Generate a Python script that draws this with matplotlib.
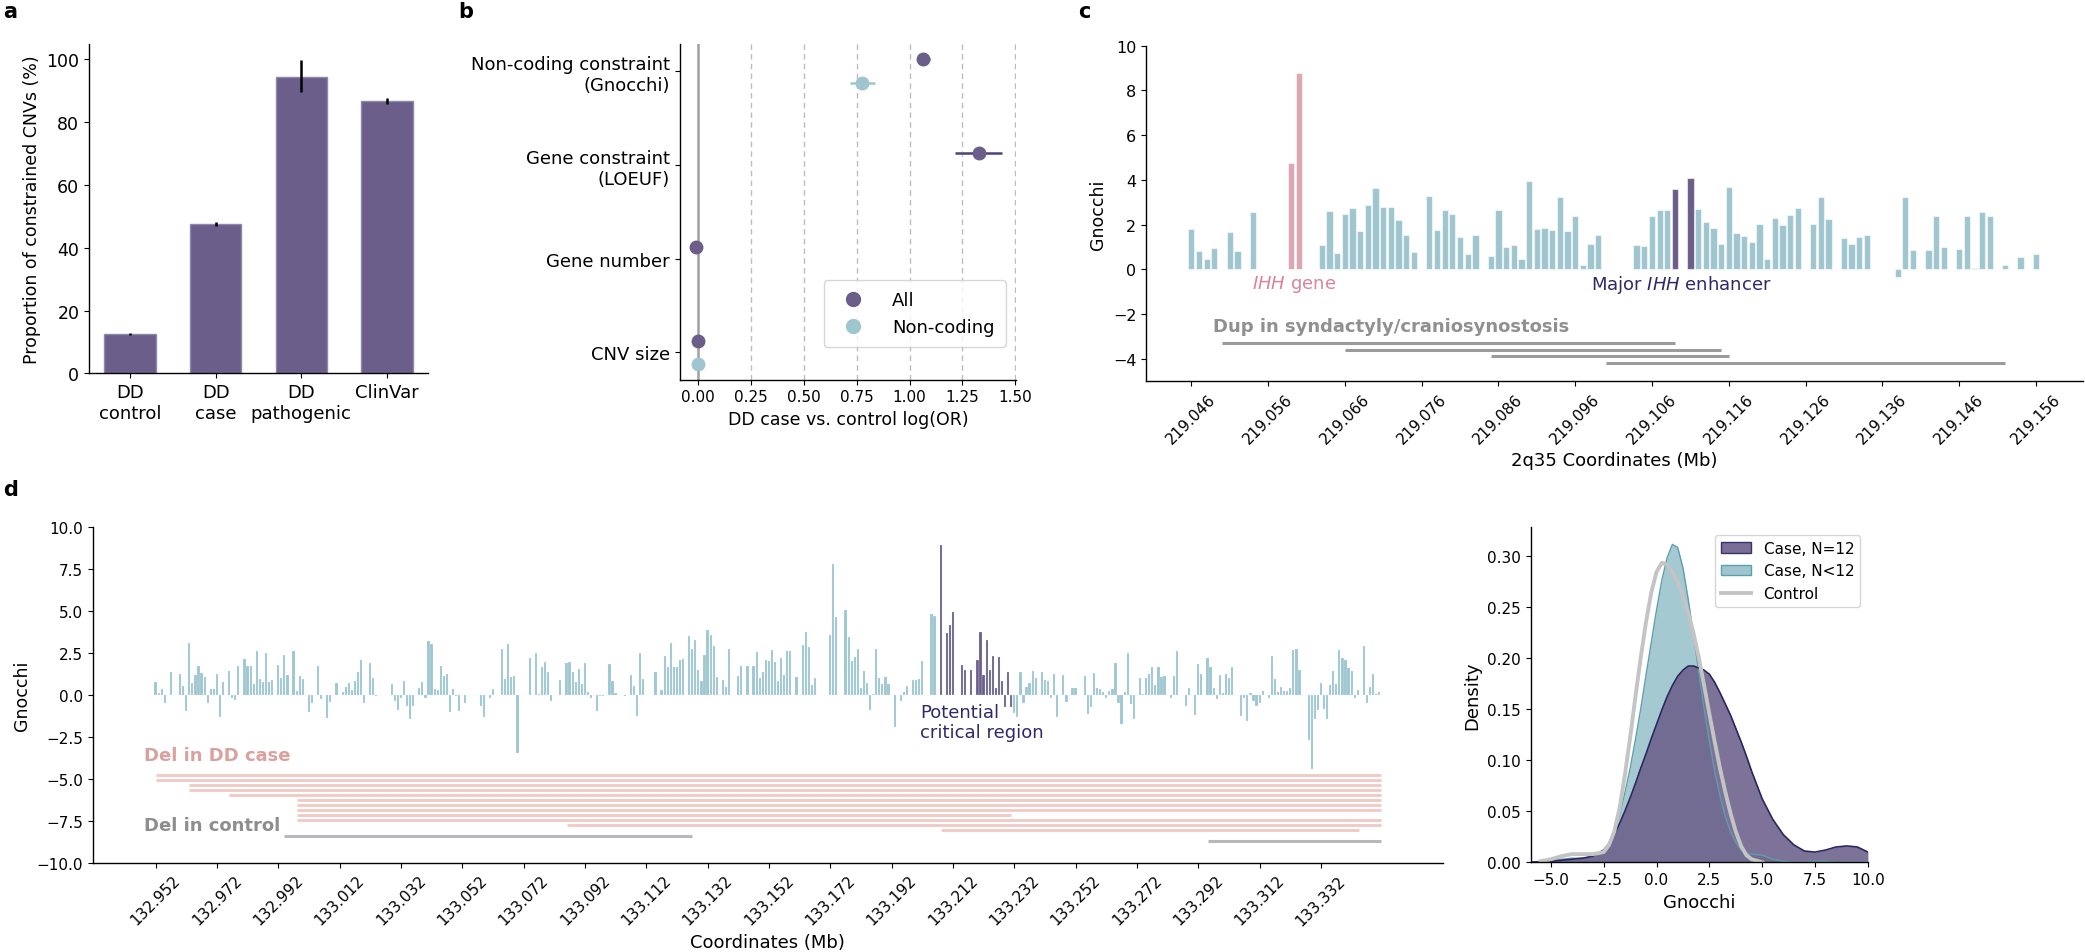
import numpy as np
import matplotlib
matplotlib.use("Agg")
import matplotlib.pyplot as plt
from matplotlib.patches import Patch
from matplotlib.lines import Line2D

plt.rcParams['font.family'] = ['DejaVu Sans']
plt.rcParams['font.size'] = 11
plt.rcParams['axes.linewidth'] = 1.0
plt.rcParams['mathtext.fontset'] = 'dejavusans'

PURPLE = '#6b5e8a'
TEAL = '#9fc6cf'
PINK = '#dca6b3'
NAVY = '#2e2a68'
GRAY_LINE = '#9b9b9b'

# ---------------- panel a data ----------------
a_categories = ['DD\ncontrol', 'DD\ncase', 'DD\npathogenic', 'ClinVar']
a_values = [12.5, 47.5, 94.5, 86.8]
a_err_low = [12.2, 46.9, 89.7, 85.8]
a_err_high = [12.8, 48.2, 99.8, 87.8]

# ---------------- panel b data ----------------
b_categories = ['Non-coding constraint\n(Gnocchi)', 'Gene constraint\n(LOEUF)',
                'Gene number', 'CNV size']
b_all = [1.065, 1.326, -0.01, 0.0]
b_all_err = [0.03, 0.11, 0.0, 0.0]
b_nc = [0.777, np.nan, np.nan, 0.0]
b_nc_err = [0.06, np.nan, np.nan, 0.0]
b_xticks = [0.0, 0.25, 0.5, 0.75, 1.0, 1.25, 1.5]

# ---------------- panel c data ----------------
c_start = 219.046
c_bin = 0.001
c_gnocchi = [1.78, 0.81, 0.46, 0.94, None, 1.66, 0.81, None, 2.54, None,
             None, None, None, 4.75, 8.78, None, None, 1.07, 2.6, 0.73,
             2.49, 2.76, 1.73, 2.88, 3.64, 2.78, 2.79, 2.19, 1.55, 0.78,
             None, 3.28, 1.76, 2.66, 2.48, 1.45, 0.67, 1.51, None, 0.57,
             2.67, 1.01, 1.09, 0.46, 3.96, 1.79, 1.84, 1.76, 3.25, 1.69,
             2.36, 0.21, 1.12, 1.55, None, None, None, None, 1.07, 1.03,
             2.39, 2.64, 2.67, 3.58, None, 4.1, 2.69, 2.1, 1.85, 1.12,
             3.69, 1.61, 1.49, 1.24, 2.04, 0.46, 2.27, 1.99, 2.43, 2.75,
             None, 2.04, 3.25, 2.24, None, 1.39, 1.15, 1.45, 1.54, None,
             None, None, -0.33, 3.24, 0.88, None, 0.84, 2.36, 0.99, None,
             0.9, 2.4, 0.07, 2.58, 2.37, None, 0.21, None, 0.54, None,
             0.66]
c_ihh_gene_bins = [219.059, 219.060]
c_enhancer_bins = [219.109, 219.111]
c_dup_starts = [219.050, 219.066, 219.085, 219.100]
c_dup_ends = [219.109, 219.115, 219.116, 219.152]
c_dup_levels = [-3.3, -3.6, -3.9, -4.2]
c_xticks = [219.046, 219.056, 219.066, 219.076, 219.086, 219.096,
            219.106, 219.116, 219.126, 219.136, 219.146, 219.156]
c_yticks = [-4, -2, 0, 2, 4, 6, 8, 10]

# ---------------- panel d data ----------------
d_start = 132.952
d_bin = 0.001
d_gnocchi = [
    0.74, 0.08, 0.34, -0.5, 0, 1.33, 0, 0, 1.22, 0.5,
    -0.98, 3.07, 0.7, 1.2, 1.69, 1.31, 1.06, -0.52, 0.34, 0.34,
    1.24, -1.3, 0.78, 0, 1.39, -0.22, -0.34, 1.73, 0, 2.11,
    1.69, 1.69, 0.62, 2.61, 0.94, 0.78, 2.49, 0.78, 0.9, 0,
    1.77, 1.0, 2.37, 1.16, 0, 2.61, 0.2, 1.1, 0.92, 0,
    -1.02, -0.48, 0, 1.69, -0.26, 0, -1.37, -0.42, 0, 0.72,
    0, 0.14, 0.46, 0.72, 0.26, 0.8, 1.33, 2.07, -0.5, 0,
    1.91, 1.0, -0.1, 0, 0, 0, 0, 0.62, -0.38, -0.9,
    -0.2, 0.82, -0.7, -1.45, -0.7, 0, 0.4, 0.78, -0.18, 3.17,
    2.99, 0.34, 0.3, 1.73, 1.1, 1.22, -1.05, 0.34, -0.06, -0.96,
    0, -0.52, 0, 0, 0, 0, -0.66, -1.3, 0, -0.2,
    0.34, 0, 0, 2.75, 0.96, 3.01, 1.06, 1.12, -3.49, 0,
    0, 0, 2.17, 0, 2.47, 0.02, 1.63, 1.93, 1.33, -0.4,
    0, 0, 0.88, 0, 1.89, 1.97, 1.33, 0.76, 1.53, 0.66,
    1.89, 0.18, -0.22, 0, -0.98, -0.1, -0.06, 0, 1.85, 0.8,
    0.1, 0, 0, -0.06, 0, 1.2, 0.54, -1.25, 2.47, 0.94,
    0, 0, 0, 1.35, 0, 0.28, 2.31, 1.63, 3.1, 1.67,
    1.67, 2.09, 2.15, 0, 3.5, 2.75, 3.27, 1.47, 0.84, 2.39,
    3.88, 3.57, 2.91, 1.06, 0, 0.88, 0.46, 2.71, 0, 0,
    1.1, 1.71, 0, 1.71, 0, 1.71, 2.53, 0.98, 1.37, 2.07,
    1.99, 2.69, 1.93, 0.8, 2.17, 1.18, 2.61, 2.61, 0, 1.08,
    0, 2.95, 3.71, 2.83, 0.6, 0.98, 0, 0, 0, 0,
    3.53, 7.8, 4.6, 0, 0, 5.02, 3.41, 2.03, 2.23, 2.73,
    0.4, 1.43, 0.68, -0.94, 0.04, 2.73, 1.02, 0.64, 1.08, 0.62,
    0, -1.93, 0, -0.36, 0.16, 0.54, 0, 0.88, 0.88, 0.94,
    2.03, 0, 0, 4.8, 4.7, 0, 8.9, 0, 3.68, 4.14,
    4.92, 0, 0, 1.77, 1.46, 0, 1.47, 0, 2.04, 3.71,
    1.19, 3.26, 1.46, 2.31, 0.39, 2.22, 0.8, -0.72, 1.34, -0.72,
    -1.06, -1.33, 1.33, -0.5, 0.44, 0.7, 1.43, 0.98, 0, 1.37,
    0.88, 0.82, -0.22, 1.22, -1.31, 0, 1.16, -0.42, 0, 0.38,
    0.4, 0, -0.04, 1.14, -1.16, -0.76, 1.3, 0.38, 0.32, 0.16,
    -0.22, 0.2, 0.36, 1.89, -0.52, -1.73, 0.16, 2.47, -0.58, -1.43,
    0, 0.98, 0.02, 1.0, 1.24, 1.65, 0.58, 1.63, 1.08, 1.1,
    0, -0.18, 1.12, 2.61, 0, 0, -0.7, 0.38, 0, -1.18,
    1.81, 1.25, 0, 2.17, 1.67, 0.38, -0.24, 1.18, 0.08, 1.22,
    1.0, 1.63, 0, 0, -1.25, -0.22, -1.57, 0.08, -0.36, -0.7,
    -0.52, 0.2, 0, -0.22, 2.31, 0.94, 0.14, 0.44, 0.22, 0.22,
    0.38, 2.69, 2.75, 1.49, 0, 0, -2.69, -4.44, -1.45, -0.9,
    0.68, -0.88, -1.45, 0.6, 1.43, 0.62, 2.69, 2.21, 2.09, 1.57,
    1.43, -0.22, 0.26, 0, 2.91, -0.52, 0.48, 1.22, 0.02, 0.14,
]
d_critical_start = 133.208
d_critical_end = 133.231
d_case_starts = [132.952, 132.952, 132.963, 132.963, 132.976, 132.998,
                 132.998, 132.998, 132.998, 132.998, 133.086, 133.208]
d_case_ends = [133.3515, 133.3515, 133.3515, 133.3515, 133.3515, 133.3515,
               133.3515, 133.3515, 133.231, 133.3515, 133.3515, 133.3445]
d_case_levels = [-4.75, -5.05, -5.35, -5.65, -5.95, -6.25,
                 -6.55, -6.85, -7.15, -7.45, -7.75, -8.05]
d_ctrl_starts = [132.994, 133.2953]
d_ctrl_ends = [133.127, 133.3515]
d_ctrl_levels = [-8.4, -8.7]
d_xticks = [132.952, 132.972, 132.992, 133.012, 133.032, 133.052, 133.072,
            133.092, 133.112, 133.132, 133.152, 133.172, 133.192, 133.212,
            133.232, 133.252, 133.272, 133.292, 133.312, 133.332]
d_yticks = [-10.0, -7.5, -5.0, -2.5, 0.0, 2.5, 5.0, 7.5, 10.0]

# ---------------- density panel data ----------------
kde_x = [-6.0, -5.5, -5.0, -4.5, -4.0, -3.5, -3.0, -2.5, -2.25, -2.0, -1.75,
         -1.5, -1.25, -1.0, -0.75, -0.5, -0.25, 0.0, 0.25, 0.5, 0.75, 1.0,
         1.25, 1.5, 1.75, 2.0, 2.25, 2.5, 2.75, 3.0, 3.25, 3.5, 3.75, 4.0,
         4.25, 4.5, 5.0, 5.5, 6.0, 6.5, 7.0, 7.5, 8.0, 8.5, 9.0, 9.5, 10.0]
kde_case12 = [0.0, 0.0005, 0.001, 0.002, 0.003, 0.004, 0.006, 0.012, 0.018,
              0.027, 0.038, 0.050, 0.063, 0.077, 0.092, 0.106, 0.121, 0.135,
              0.149, 0.162, 0.173, 0.182, 0.188, 0.192, 0.192, 0.190, 0.188,
              0.184, 0.176, 0.166, 0.155, 0.144, 0.131, 0.118, 0.104, 0.089,
              0.062, 0.042, 0.027, 0.017, 0.011, 0.010, 0.012, 0.015, 0.016,
              0.015, 0.010]
kde_case_lt12 = [0.0, 0.001, 0.002, 0.003, 0.004, 0.004, 0.006, 0.012, 0.019,
                 0.030, 0.046, 0.068, 0.092, 0.120, 0.150, 0.183, 0.215, 0.247,
                 0.276, 0.298, 0.311, 0.308, 0.288, 0.257, 0.222, 0.186, 0.150,
                 0.118, 0.089, 0.065, 0.045, 0.030, 0.019, 0.012, 0.009, 0.008,
                 0.007, 0.003, 0.001, 0.0, 0.0, 0.001, 0.001, 0.0, 0.0, 0.0, 0.0]
kde_control = [np.nan, 0.001, 0.003, 0.006, 0.008, 0.008, 0.008, 0.010, 0.017,
               0.030, 0.053, 0.085, 0.122, 0.162, 0.200, 0.235, 0.264, 0.284,
               0.293, 0.291, 0.284, 0.274, 0.260, 0.244, 0.224, 0.200, 0.173,
               0.145, 0.118, 0.092, 0.069, 0.048, 0.030, 0.016, 0.007, 0.003,
               0.0, np.nan, np.nan, np.nan, np.nan, np.nan, np.nan, np.nan,
               np.nan, np.nan, np.nan]
kde_xticks = [-5.0, -2.5, 0.0, 2.5, 5.0, 7.5, 10.0]
kde_yticks = [0.0, 0.05, 0.10, 0.15, 0.20, 0.25, 0.30]


def fmt(v, nd):
    return f'{v:.{nd}f}'.replace('-', '\u2212')


def despine(ax):
    ax.spines['top'].set_visible(False)
    ax.spines['right'].set_visible(False)


W, H = 2085, 953
fig = plt.figure(figsize=(W / 100, H / 100), dpi=100)


def px_axes(left, top, right, bottom):
    return fig.add_axes([left / W, 1 - bottom / H, (right - left) / W, (bottom - top) / H])


# ---------------- panel a ----------------
axa = px_axes(89, 44.8, 428, 374.3)
xa = np.arange(len(a_categories))
axa.bar(xa, a_values, width=0.6, color=PURPLE, edgecolor='#9088aa', linewidth=1.0)
axa.vlines(xa, a_err_low, a_err_high, color='black', lw=1.8)
axa.set_xticks(xa)
axa.set_xticklabels(a_categories, fontsize=13)
axa.set_xlim(-0.48, 3.48)
axa.set_ylim(0, 105)
axa.set_yticks([0, 20, 40, 60, 80, 100])
axa.tick_params(axis='y', labelsize=12.5)
axa.set_ylabel('Proportion of constrained CNVs (%)', fontsize=12.5)
despine(axa)

# ---------------- panel b ----------------
axb = px_axes(679.6, 44.8, 1016.4, 380.5)
yb = np.arange(len(b_categories))
for xv in b_xticks[1:]:
    axb.axvline(xv, color='#bdbdbd', lw=1.0, ls=(0, (4, 3)), zorder=0)
axb.axvline(0, color='#a0a0a0', lw=1.8, zorder=1)
axb.errorbar(b_all, yb - 0.125, xerr=b_all_err, fmt='o', color=PURPLE, ms=9,
             ecolor='#4e4274', elinewidth=1.8, capsize=0, zorder=3, label='All')
axb.errorbar(b_nc, yb + 0.125, xerr=b_nc_err, fmt='o', color=TEAL, ms=9,
             ecolor=TEAL, elinewidth=1.8, capsize=0, zorder=3, label='Non-coding')
axb.set_yticks(yb)
axb.set_yticklabels(b_categories, fontsize=13)
axb.set_ylim(3.29, -0.29)
axb.set_xlim(-0.087, 1.505)
axb.set_xticks(b_xticks)
axb.set_xticklabels([fmt(v, 2) for v in b_xticks], fontsize=11)
axb.set_xlabel('DD case vs. control log(OR)', fontsize=12.5)
hb = [Line2D([], [], marker='o', ls='', color=PURPLE, ms=10),
      Line2D([], [], marker='o', ls='', color=TEAL, ms=10)]
axb.legend(hb, ['All', 'Non-coding'], loc='lower right', fontsize=13,
           handletextpad=1.2, borderpad=0.6, bbox_to_anchor=(0.995, 0.07))
despine(axb)

# ---------------- panel c ----------------
axc = px_axes(1146, 46.7, 2082.7, 382)
c_vals = np.array([np.nan if v is None else v for v in c_gnocchi], dtype=float)
c_x = c_start + c_bin * np.arange(len(c_vals))
c_cols = []
for xv in c_x:
    if any(abs(xv - b) < 1e-6 for b in c_ihh_gene_bins):
        c_cols.append(PINK)
    elif any(abs(xv - b) < 1e-6 for b in c_enhancer_bins):
        c_cols.append(PURPLE)
    else:
        c_cols.append(TEAL)
axc.bar(c_x, c_vals, width=0.00082, color=c_cols, edgecolor=(1, 1, 1, 0.55), linewidth=0.8)
axc.hlines(c_dup_levels, c_dup_starts, c_dup_ends, color=GRAY_LINE, lw=2.2)
axc.text(219.0488, -2.55, 'Dup in syndactyly/craniosynostosis', fontsize=13,
         fontweight='bold', color='#909090', ha='left', va='center')
axc.text(219.0594, -0.66, r'$\mathit{IHH}$ gene', fontsize=13, color='#d9849c',
         ha='center', va='center')
axc.text(219.1098, -0.66, r'Major $\mathit{IHH}$ enhancer', fontsize=13, color=NAVY,
         ha='center', va='center')
axc.set_xlim(219.0401, 219.1621)
axc.set_ylim(-5, 10)
axc.set_yticks(c_yticks)
axc.set_yticklabels([fmt(v, 0) for v in c_yticks], fontsize=11.5)
axc.set_xticks(c_xticks)
axc.set_xticklabels([f'{t:.3f}' for t in c_xticks], rotation=45, fontsize=11)
axc.set_ylabel('Gnocchi', fontsize=12.5)
axc.set_xlabel('2q35 Coordinates (Mb)', fontsize=13)
despine(axc)

# ---------------- panel d ----------------
axd = px_axes(92.7, 527.7, 1443, 863.7)
d_vals = np.array(d_gnocchi, dtype=float)
d_x = d_start + d_bin * np.arange(len(d_vals))
d_cols = [PURPLE if (d_critical_start - 1e-6 <= xv <= d_critical_end + 1e-6) else TEAL
          for xv in d_x]
axd.bar(d_x, d_vals, width=0.00072, color=d_cols, edgecolor=(0.85, 0.92, 0.94, 0.6),
        linewidth=0.3)
axd.hlines(d_case_levels, d_case_starts, d_case_ends, color='#f0c9c3', lw=2.0)
axd.hlines(d_ctrl_levels, d_ctrl_starts, d_ctrl_ends, color='#b8b8bc', lw=2.2)
axd.text(132.9483, -3.57, 'Del in DD case', fontsize=13, fontweight='bold',
         color='#d9a19f', ha='left', va='center')
axd.text(132.9483, -7.74, 'Del in control', fontsize=13, fontweight='bold',
         color='#8e8e8e', ha='left', va='center')
axd.text(133.2014, -1.6, 'Potential\ncritical region', fontsize=13, color=NAVY,
         ha='left', va='center', linespacing=1.15)
axd.set_xlim(132.9315, 133.3718)
axd.set_ylim(-10, 10)
axd.set_yticks(d_yticks)
axd.set_yticklabels([fmt(v, 1) for v in d_yticks], fontsize=11)
axd.set_xticks(d_xticks)
axd.set_xticklabels([f'{t:.3f}' for t in d_xticks], rotation=45, fontsize=11)
axd.set_ylabel('Gnocchi', fontsize=12.5)
axd.set_xlabel('Coordinates (Mb)', fontsize=13)
despine(axd)

# ---------------- density panel ----------------
axk = px_axes(1530.6, 528, 1867.9, 863.3)
kx = np.array(kde_x)
axk.fill_between(kx, kde_case_lt12, 0, color=TEAL, alpha=0.95, lw=0)
axk.plot(kx, kde_case_lt12, color='#5c9fae', lw=1.0)
axk.fill_between(kx, kde_case12, 0, color=PURPLE, alpha=0.88, lw=0)
axk.plot(kx, kde_case12, color='#2b2560', lw=1.2)
axk.plot(kx, kde_control, color='#c4c4c4', lw=2.8)
axk.set_xlim(-5.96, 10)
axk.set_ylim(0, 0.328)
axk.set_xticks(kde_xticks)
axk.set_xticklabels([fmt(v, 1) for v in kde_xticks], fontsize=11)
axk.set_yticks(kde_yticks)
axk.set_yticklabels([fmt(v, 2) for v in kde_yticks], fontsize=11)
axk.set_xlabel('Gnocchi', fontsize=13)
axk.set_ylabel('Density', fontsize=13)
hk = [Patch(facecolor=PURPLE, edgecolor='#2b2560', alpha=0.9),
      Patch(facecolor=TEAL, edgecolor='#5c9fae'),
      Line2D([], [], color='#c4c4c4', lw=2.8)]
axk.legend(hk, ['Case, N=12', 'Case, N<12', 'Control'], loc='upper right', fontsize=11)
despine(axk)

# ---------------- panel letters ----------------
for lab, xp, yp in [('a', 3, 12), ('b', 458, 12), ('c', 1078, 12), ('d', 3, 490)]:
    fig.text(xp / W, 1 - yp / H, lab, fontsize=15, fontweight='bold', ha='left', va='center')

fig.savefig('out.png', dpi=100)
